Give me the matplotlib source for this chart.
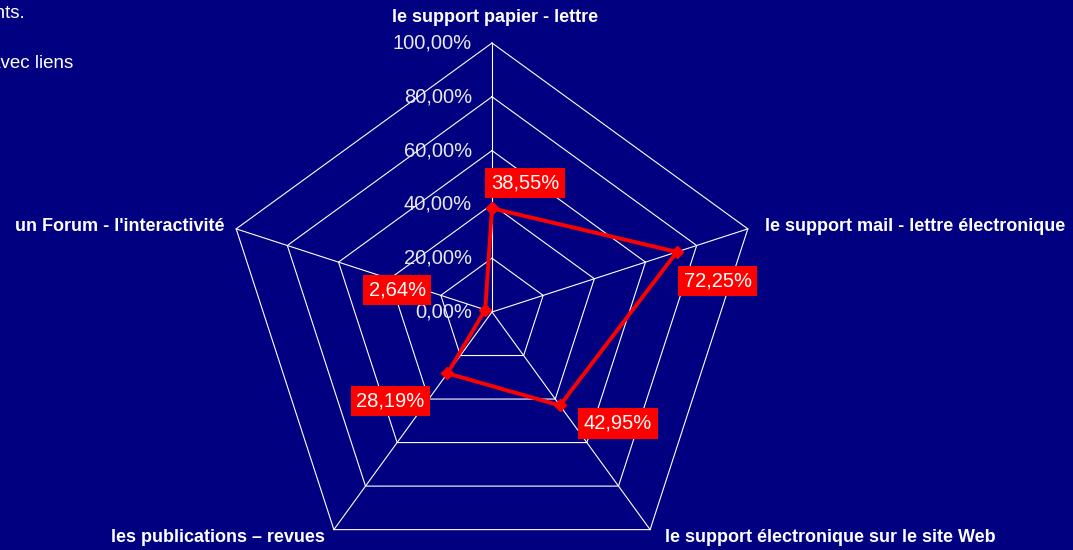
import numpy as np
import matplotlib
matplotlib.use('Agg')
import matplotlib.pyplot as plt

plt.rcParams['font.family'] = ['Liberation Sans', 'DejaVu Sans']

bg = '#000080'

categories = ['le support papier - lettre',
              'le support mail - lettre électronique',
              'le support électronique sur le site Web',
              'les publications – revues',
              "un Forum - l'interactivité"]
values = [38.55, 72.25, 42.95, 28.19, 2.64]
value_labels = ['38,55%', '72,25%', '42,95%', '28,19%', '2,64%']
levels = [0, 20, 40, 60, 80, 100]
level_labels = ['0,00%', '20,00%', '40,00%', '60,00%', '80,00%', '100,00%']

# label placement (pixel offsets from the point)
value_offsets = [(33, 25), (41, -29), (58, -18), (-57, -28), (-88, 20)]
cat_offsets = [(3, 25), (17, 2), (15, -8), (-9, -8), (-12, 2)]
cat_ha = ['center', 'left', 'left', 'right', 'right']

fig = plt.figure(figsize=(10.73, 5.5), dpi=100, facecolor=bg)
ax = fig.add_axes([0, 0, 1, 1])
ax.set_facecolor(bg)
scale = 2.69  # px per percent
cx, cy = 492, 312
ax.set_xlim(-cx / scale, (1073 - cx) / scale)
ax.set_ylim(-(550 - cy) / scale, cy / scale)
ax.axis('off')

n = len(categories)
ang = np.pi / 2 - 2 * np.pi * np.arange(n) / n
ux, uy = np.cos(ang), np.sin(ang)

# web
for lv in levels[1:]:
    ax.plot(np.append(ux, ux[0]) * lv, np.append(uy, uy[0]) * lv,
            color='white', lw=0.8, zorder=1)
for i in range(n):
    ax.plot([0, ux[i] * 100], [0, uy[i] * 100], color='white', lw=0.8, zorder=1)

# radial tick labels
for lv, lab in zip(levels, level_labels):
    ax.annotate(lab, (0, lv), xytext=(-20, 0), textcoords='offset pixels',
                ha='right', va='center', color='#e8e8f0', fontsize=14.5, zorder=2)

# series
v = np.array(values)
ax.plot(np.append(ux * v, ux[0] * v[0]), np.append(uy * v, uy[0] * v[0]),
        color='red', lw=2.8, marker='D', markersize=6, zorder=3)

for i in range(n):
    ax.annotate(value_labels[i], (ux[i] * v[i], uy[i] * v[i]),
                xytext=value_offsets[i], textcoords='offset pixels',
                ha='center', va='center', color='white', fontsize=14.5,
                bbox=dict(boxstyle='square,pad=0.28', fc='red', ec='none'),
                zorder=4)

# category labels
for i in range(n):
    ax.annotate(categories[i], (ux[i] * 100, uy[i] * 100),
                xytext=cat_offsets[i], textcoords='offset pixels',
                ha=cat_ha[i], va='center', color='white', fontsize=13,
                fontweight='bold', zorder=4)

# legend text cut off at the top left (as in the original)
fig.text(25 / 1073, 1 - 18 / 550, 'des adhérents.', ha='right', va='baseline',
         color='white', fontsize=13.5)
fig.text(-10 / 1073, 1 - 68 / 550, 'avec liens', ha='left', va='baseline',
         color='white', fontsize=13.5)

fig.savefig('out.png', dpi=100, facecolor=bg)
